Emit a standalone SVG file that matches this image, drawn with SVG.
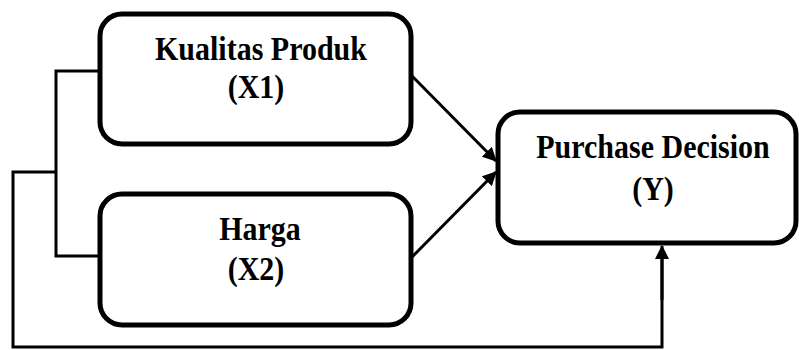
<svg xmlns="http://www.w3.org/2000/svg" width="799" height="350" viewBox="0 0 799 350">
<style>
.box{fill:#fff;stroke:#000;stroke-width:5}
.t{font-family:"Liberation Serif","Times New Roman",serif;font-weight:bold;font-size:30px;text-anchor:middle;fill:#000}
.ln{fill:none;stroke:#000;stroke-width:3}
</style>
<defs>
<marker id="ah2" markerWidth="14" markerHeight="14" refX="13" refY="7" orient="auto" markerUnits="userSpaceOnUse" viewBox="0 0 14 14">
<path d="M0,0 L14,7 L0,14 Z" fill="#000"/>
</marker>
</defs>
<g id="connectors">
<path class="ln" d="M100,71 H56 V256 H100"/>
<path class="ln" d="M56,172 H13 V347 H662 V258"/>
<line class="ln" x1="662" y1="300" x2="662" y2="246" marker-end="url(#ah2)"/>
<line class="ln" x1="412" y1="76" x2="496" y2="161" marker-end="url(#ah2)"/>
<line class="ln" x1="412" y1="257" x2="496" y2="172" marker-end="url(#ah2)"/>
</g>
<g id="x1">
<rect class="box" x="100" y="14" width="311" height="130" rx="22"/>
<text class="t" transform="translate(261,60) scale(1,1.12)">Kualitas Produk</text>
<text class="t" transform="translate(256,98) scale(1,1.15)">(X1)</text>
</g>
<g id="x2">
<rect class="box" x="100" y="194" width="311" height="131" rx="22"/>
<text class="t" transform="translate(260,240) scale(1,1.12)">Harga</text>
<text class="t" transform="translate(256,280) scale(1,1.15)">(X2)</text>
</g>
<g id="y">
<rect class="box" x="498" y="112" width="298" height="131" rx="22"/>
<text class="t" transform="translate(653,158) scale(1,1.12)">Purchase Decision</text>
<text class="t" transform="translate(653,200) scale(1,1.15)">(Y)</text>
</g>
</svg>
